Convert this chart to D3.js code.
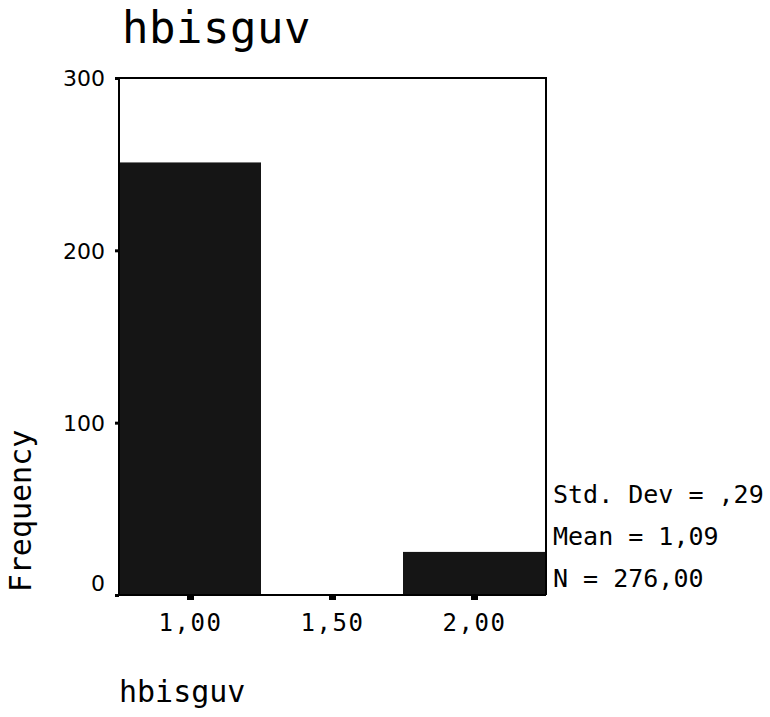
<!DOCTYPE html>
<html>
<head>
<meta charset="utf-8">
<script src="https://cdn.jsdelivr.net/npm/d3@7"></script>
<style>
  html, body { margin: 0; padding: 0; background: #fff; }
  svg { display: block; }
  .mono { font-family: "DejaVu Sans Mono", "Liberation Mono", monospace; fill: #000; }
  .sans { font-family: "DejaVu Sans", Verdana, sans-serif; fill: #000; }
</style>
</head>
<body>
<svg id="chart" width="770" height="717"></svg>
<script>
// Histogram of hbisguv: bin centres and counts
const binCenters = [1.0, 2.0];
const binCounts = [251, 25];
const binWidth = 0.5;
const xTickValues = [1.0, 1.5, 2.0];
const xTickLabels = ["1,00", "1,50", "2,00"];
const yTickValues = [0, 100, 200, 300];
const statLines = ["Std. Dev = ,29", "Mean = 1,09", "N = 276,00"];
const titleText = "hbisguv";
const xLabel = "hbisguv";
const yLabel = "Frequency";

const svg = d3.select("#chart");
const plotLeft = 119, plotRight = 545, plotTop = 78, plotBottom = 595;

const x = d3.scaleLinear().domain([0.75, 2.25]).range([plotLeft, plotRight]);
const y = d3.scaleLinear().domain([0, 300]).range([plotBottom, plotTop]);

// bars
svg.append("g").selectAll("rect")
  .data(binCenters.map((c, i) => ({ c, n: binCounts[i] })))
  .join("rect")
  .attr("x", d => x(d.c - binWidth / 2))
  .attr("y", d => y(d.n))
  .attr("width", d => x(d.c + binWidth / 2) - x(d.c - binWidth / 2))
  .attr("height", d => y(0) - y(d.n))
  .attr("fill", "#151515");

// frame: top and right edges
svg.append("path")
  .attr("d", `M${plotLeft},${plotTop}H${plotRight + 1}V${plotBottom}`)
  .attr("fill", "none").attr("stroke", "#000").attr("stroke-width", 2);

// y axis
const yAxis = svg.append("g")
  .attr("transform", `translate(${plotLeft},0)`)
  .call(d3.axisLeft(y).tickValues(yTickValues).tickSize(4).tickPadding(10).tickFormat(d3.format("d")));
yAxis.select(".domain").attr("stroke-width", 2).attr("d", `M0,${plotTop}V${plotBottom}`);
yAxis.selectAll(".tick line").attr("stroke-width", 3);
yAxis.selectAll(".tick text")
  .attr("class", "sans")
  .style("font-size", "22px")
  .attr("dy", d => d === 0 ? "-0.2em" : "0.36em");

// x axis
const xAxis = svg.append("g")
  .attr("transform", `translate(0,${plotBottom})`)
  .call(d3.axisBottom(x).tickValues(xTickValues).tickSize(5).tickPadding(14)
    .tickFormat((d, i) => xTickLabels[i]));
xAxis.select(".domain").attr("stroke-width", 2).attr("d", `M${plotLeft},0H${plotRight + 1}`);
xAxis.selectAll(".tick line").attr("stroke-width", 7);
xAxis.selectAll(".tick text")
  .attr("class", "mono")
  .style("font-size", "24px")
  .attr("letter-spacing", "1.5px");
svg.selectAll(".domain, .tick line").attr("stroke", "#000");

// title
svg.append("text").attr("class", "mono")
  .attr("x", 122).attr("y", 43)
  .style("font-size", "44px")
  .attr("letter-spacing", "0.5px")
  .text(titleText);

// axis titles
svg.append("text").attr("class", "mono")
  .attr("x", 119).attr("y", 702)
  .style("font-size", "30px")
  .text(xLabel);

svg.append("text").attr("class", "mono")
  .attr("transform", "translate(31,511) rotate(-90)")
  .attr("text-anchor", "middle")
  .style("font-size", "30px")
  .text(yLabel);

// summary statistics
svg.append("g").selectAll("text")
  .data(statLines)
  .join("text")
  .attr("class", "mono")
  .attr("x", 553)
  .attr("y", (d, i) => 503 + i * 42)
  .style("font-size", "25px")
  .text(d => d);
</script>
</body>
</html>
